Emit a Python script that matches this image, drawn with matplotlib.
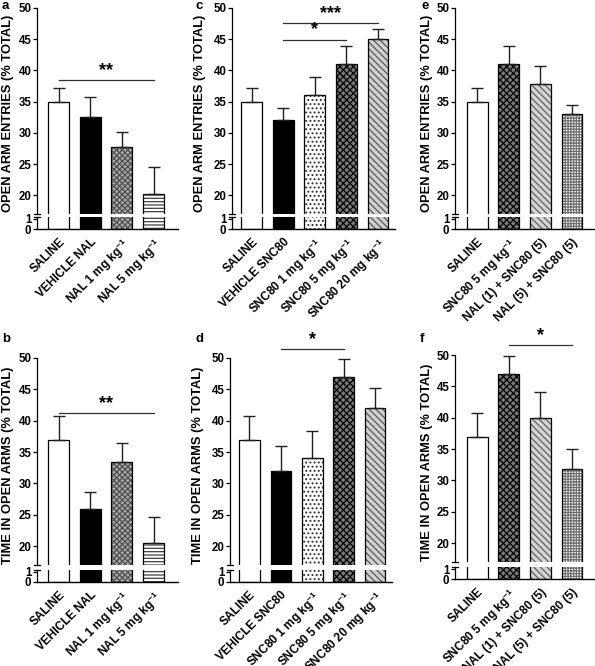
import matplotlib
matplotlib.use("Agg")
import matplotlib.pyplot as plt
import numpy as np

plt.rcParams['font.family'] = ['Liberation Sans', 'DejaVu Sans']
plt.rcParams['font.weight'] = 'bold'
plt.rcParams['mathtext.fontset'] = 'custom'
plt.rcParams['mathtext.rm'] = 'Liberation Sans:bold'
plt.rcParams['mathtext.it'] = 'Liberation Sans:bold'
plt.rcParams['mathtext.bf'] = 'Liberation Sans:bold'
plt.rcParams['hatch.linewidth'] = 0.9

# ---------------- data ----------------
cats_a = ['SALINE', 'VEHICLE NAL', 'NAL 1 mg kg$^{-1}$', 'NAL 5 mg kg$^{-1}$']
cats_c = ['SALINE', 'VEHICLE SNC80', 'SNC80 1 mg kg$^{-1}$', 'SNC80 5 mg kg$^{-1}$', 'SNC80 20 mg kg$^{-1}$']
cats_e = ['SALINE', 'SNC80 5 mg kg$^{-1}$', 'NAL (1) + SNC80 (5)', 'NAL (5) + SNC80 (5)']

entries_a = [35.0, 32.5, 27.7, 20.2]
entries_a_err = [2.2, 3.3, 2.5, 4.3]
entries_c = [35.0, 32.0, 36.0, 41.0, 45.0]
entries_c_err = [2.2, 2.0, 2.9, 2.9, 1.6]
entries_e = [35.0, 41.0, 37.8, 33.0]
entries_e_err = [2.2, 2.9, 2.9, 1.5]

time_b = [37.0, 26.0, 33.5, 20.5]
time_b_err = [3.7, 2.7, 3.0, 4.2]
time_d = [37.0, 32.0, 34.0, 47.0, 42.0]
time_d_err = [3.7, 3.9, 4.3, 2.9, 3.2]
time_f = [37.0, 47.0, 40.0, 31.8]
time_f_err = [3.7, 2.9, 4.1, 3.2]

# significance: (start index, end index, y value, label)
sig_a = [(0, 3, 38.4, '**')]
sig_c = [(1, 3, 44.9, '*'), (1, 4, 47.6, '***')]
sig_e = []
sig_b = [(0, 3, 41.2, '**')]
sig_d = [(1, 3, 51.4, '*')]
sig_f = [(1, 3, 51.6, '*')]

ylabel_top = 'OPEN ARM ENTRIES (% TOTAL)'
ylabel_bot = 'TIME IN OPEN ARMS (% TOTAL)'

# ---------------- styles ----------------
styles = {
    'SALINE': dict(face='white', hatch=None, hc='black'),
    'VEHICLE NAL': dict(face='black', hatch=None, hc='black'),
    'VEHICLE SNC80': dict(face='black', hatch=None, hc='black'),
    'NAL 1 mg kg$^{-1}$': dict(face='#a8a8a8', hatch='xxxxxx', hc='#505050'),
    'NAL 5 mg kg$^{-1}$': dict(face='white', hatch='-----', hc='#404040'),
    'SNC80 1 mg kg$^{-1}$': dict(face='white', hatch='....', hc='#303030'),
    'SNC80 5 mg kg$^{-1}$': dict(face='#7a7a7a', hatch='xxxxx', hc='black'),
    'SNC80 20 mg kg$^{-1}$': dict(face='#d0d0d0', hatch='\\\\\\\\\\', hc='#585858'),
    'NAL (1) + SNC80 (5)': dict(face='#d4d4d4', hatch='\\\\\\\\\\', hc='#606060'),
    'NAL (5) + SNC80 (5)': dict(face='white', hatch='++++++', hc='#707070'),
}

W, H = 595, 666
fig = plt.figure(figsize=(W / 100, H / 100), dpi=100)


def rect(x0, x1, yt, yb):
    return [x0 / W, 1 - yb / H, (x1 - x0) / W, (yb - yt) / H]


def draw_bars(ax, cats, vals, errs):
    x = np.arange(len(cats))
    for i, c in enumerate(cats):
        st = styles[c]
        ax.bar(x[i], vals[i], width=0.66, color=st['face'], edgecolor=st['hc'],
               hatch=st['hatch'], linewidth=0, zorder=2)
        ax.bar(x[i], vals[i], width=0.66, fill=False, edgecolor='black',
               linewidth=0.9, zorder=3)
    ax.errorbar(x, vals, yerr=[np.zeros(len(vals)), errs], fmt='none',
                ecolor='#202020', elinewidth=1.0, capsize=4, capthick=1.0, zorder=4)


def panel(xa, xb, yt, yb_up, yt_lo, yb, xlim, cats, vals, errs, sigs, ylabel,
          letter, letter_xy, ylab_x):
    up = fig.add_axes(rect(xa, xb, yt, yb_up))
    lo = fig.add_axes(rect(xa, xb, yt_lo, yb))
    draw_bars(up, cats, vals, errs)
    draw_bars(lo, cats, vals, errs)
    up.set_ylim(17, 50)
    lo.set_ylim(0, 1.2)
    for a in (up, lo):
        a.set_xlim(*xlim)
        a.spines['top'].set_visible(False)
        a.spines['right'].set_visible(False)
        a.tick_params(axis='y', length=3, width=0.9, labelsize=8.3, pad=1)
        a.spines['left'].set_linewidth(0.9)
        a.set_facecolor('none')
    up.spines['bottom'].set_visible(False)
    up.set_yticks([20, 25, 30, 35, 40, 45, 50])
    up.set_xticks([])
    lo.set_yticks([0, 1])
    for a in (up, lo):
        for t in a.get_yticklabels():
            t.set_fontweight('bold')
    lo.spines['bottom'].set_linewidth(1.0)
    lo.set_xticks(np.arange(len(cats)))
    lo.set_xticklabels(cats, rotation=45, ha='right', rotation_mode='anchor',
                       fontsize=8.6, fontweight='bold')
    lo.tick_params(axis='x', length=0, pad=5)
    # break marks
    up.plot([-0.02, 0.02], [0, 0], transform=up.transAxes, color='black',
            lw=0.9, clip_on=False)
    lo.plot([-0.02, 0.02], [1, 1], transform=lo.transAxes, color='black',
            lw=0.9, clip_on=False)
    for i0, i1, yv, lab in sigs:
        up.plot([i0, i1], [yv, yv], color='#303030', lw=0.9, clip_on=False)
        up.text((i0 + i1) / 2, yv + 0.2, lab, ha='center', va='bottom',
                fontsize=13, fontweight='bold', clip_on=False)
    yc = 1 - ((yt + yb) / 2 - 5) / H
    fig.text(ylab_x / W, yc, ylabel, rotation=90, ha='center', va='center',
             fontsize=9.3, fontweight='bold')
    fig.text(letter_xy[0] / W, 1 - letter_xy[1] / H, letter, ha='left', va='top',
             fontsize=9.5, fontweight='bold')


# top row
panel(37, 178, 8, 214, 217, 229, (-0.68, 3.77), cats_a, entries_a, entries_a_err,
      sig_a, ylabel_top, 'a', (2, 0), 8)
panel(232, 395, 8, 214, 217, 229, (-0.62, 4.54), cats_c, entries_c, entries_c_err,
      sig_c, ylabel_top, 'c', (195, 0), 200)
panel(455, 594, 8, 214, 217, 229, (-0.71, 3.70), cats_e, entries_e, entries_e_err,
      sig_e, ylabel_top, 'e', (421, 0), 427)

# bottom row
panel(37, 178, 358, 565, 570, 582, (-0.68, 3.77), cats_a, time_b, time_b_err,
      sig_b, ylabel_bot, 'b', (2, 333), 8)
panel(230, 392, 358, 565, 570, 582, (-0.62, 4.54), cats_c, time_d, time_d_err,
      sig_d, ylabel_bot, 'd', (196, 333), 198)
panel(455, 594, 355, 562, 567, 579, (-0.71, 3.70), cats_e, time_f, time_f_err,
      sig_f, ylabel_bot, 'f', (420, 333), 427)

fig.savefig('out.png', dpi=100)
